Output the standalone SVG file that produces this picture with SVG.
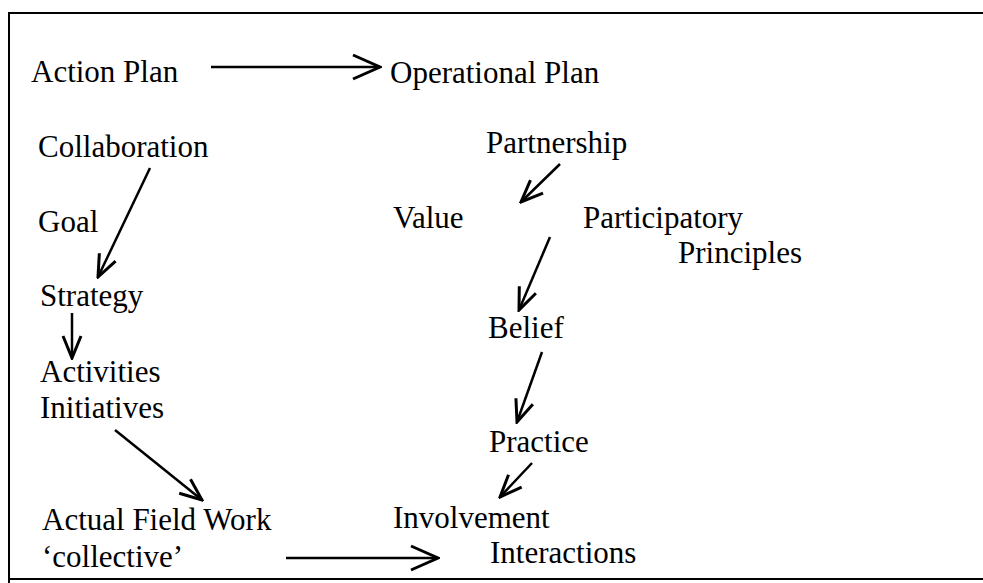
<svg xmlns="http://www.w3.org/2000/svg" width="983" height="583" viewBox="0 0 983 583">
<defs>
<style>
text { font-family: "Liberation Serif", "Times New Roman", serif; font-size: 31px; fill: #000; }
.c { stroke: #000; stroke-width: 2.5; fill: none; }
.frame { stroke: #000; stroke-width: 2; fill: none; }
</style>
<marker id="big" markerUnits="userSpaceOnUse" viewBox="-30 -14 32 28" refX="0" refY="0" markerWidth="32" markerHeight="28" orient="auto">
<path d="M -27,-12 L 0,0 L -27,12" fill="none" stroke="#000" stroke-width="3"/>
</marker>
<marker id="small" markerUnits="userSpaceOnUse" viewBox="-26 -12 28 24" refX="0" refY="0" markerWidth="28" markerHeight="24" orient="auto">
<path d="M -22,-9 L 0,0 L -22,9" fill="none" stroke="#000" stroke-width="3"/>
</marker>
</defs>
<rect width="983" height="583" fill="#fff"/>
<path class="frame" d="M 983,13 L 9,13 L 9,583 M 9,579 L 983,579"/>
<g id="connectors">
<line class="c" x1="211" y1="67" x2="380" y2="67" marker-end="url(#big)"/>
<line class="c" x1="150" y1="168" x2="98" y2="277" marker-end="url(#small)"/>
<line class="c" x1="72" y1="313" x2="72" y2="358" marker-end="url(#small)"/>
<line class="c" x1="115" y1="430" x2="202" y2="500" marker-end="url(#small)"/>
<line class="c" x1="286" y1="558" x2="438" y2="558" marker-end="url(#big)"/>
<line class="c" x1="560" y1="164" x2="521" y2="202" marker-end="url(#small)"/>
<line class="c" x1="550" y1="237" x2="519" y2="310" marker-end="url(#small)"/>
<line class="c" x1="542" y1="352" x2="517" y2="422" marker-end="url(#small)"/>
<line class="c" x1="532" y1="463" x2="500" y2="497" marker-end="url(#small)"/>
</g>
<g id="action-plan"><text x="31" y="82">Action Plan</text></g>
<g id="operational-plan"><text x="390" y="83">Operational Plan</text></g>
<g id="collaboration"><text x="38" y="157">Collaboration</text></g>
<g id="goal"><text x="38" y="232">Goal</text></g>
<g id="strategy"><text x="40" y="306">Strategy</text></g>
<g id="activities"><text x="40" y="382">Activities</text><text x="40" y="418">Initiatives</text></g>
<g id="field-work"><text x="42" y="530">Actual Field Work</text><text x="42" y="567">‘collective’</text></g>
<g id="partnership"><text x="486" y="153">Partnership</text></g>
<g id="value"><text x="393" y="228">Value</text></g>
<g id="participatory"><text x="583" y="228">Participatory</text><text x="678" y="263">Principles</text></g>
<g id="belief"><text x="488" y="338">Belief</text></g>
<g id="practice"><text x="489" y="452">Practice</text></g>
<g id="involvement"><text x="393" y="528">Involvement</text></g>
<g id="interactions"><text x="490" y="563">Interactions</text></g>
</svg>
